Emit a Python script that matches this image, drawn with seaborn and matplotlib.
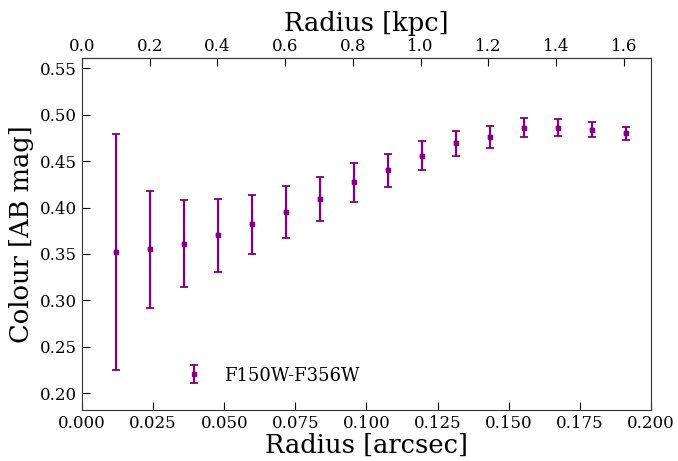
import matplotlib
matplotlib.use("Agg")
import matplotlib.pyplot as plt
import seaborn as sns
import numpy as np

radius_arcsec = [0.0119, 0.0239, 0.0358, 0.0478, 0.0597, 0.0717, 0.0836, 0.0956,
                 0.1075, 0.1195, 0.1314, 0.1434, 0.1553, 0.1673, 0.1792, 0.1912]
colour = [0.352, 0.355, 0.361, 0.370, 0.382, 0.395, 0.409, 0.427,
          0.440, 0.456, 0.469, 0.476, 0.486, 0.486, 0.484, 0.480]
colour_err = [0.127, 0.063, 0.047, 0.039, 0.032, 0.028, 0.024, 0.021,
              0.018, 0.0157, 0.0135, 0.012, 0.010, 0.009, 0.008, 0.0068]
series_label = "F150W-F356W"
kpc_per_arcsec = 8.4

sns.set_style("ticks", {"text.color": "black", "axes.labelcolor": "black",
                        "xtick.color": "black", "ytick.color": "black",
                        "axes.edgecolor": "#333333"})
plt.rcParams['font.family'] = ['DejaVu Serif']
plt.rcParams['mathtext.fontset'] = 'dejavuserif'

fig = plt.figure(figsize=(6.78, 4.61), dpi=100)
ax = fig.add_axes([0.121, 0.111, 0.839, 0.763])

sns.scatterplot(x=radius_arcsec, y=colour, ax=ax, color="purple", marker="s",
                s=12, edgecolor="purple", legend=False, zorder=3)
ax.errorbar(radius_arcsec, colour, yerr=colour_err, fmt="s", color="purple",
            markersize=3.5, capsize=2.6, elinewidth=1.6, capthick=1.3,
            label=series_label)

ax.set_xlim(0, 0.2)
ax.set_ylim(0.182, 0.561)
ax.set_yticks(np.arange(0.20, 0.56, 0.05))
ax.set_xticks(np.arange(0, 0.2001, 0.025))
ax.xaxis.set_major_formatter(matplotlib.ticker.FormatStrFormatter('%.3f'))
ax.yaxis.set_major_formatter(matplotlib.ticker.FormatStrFormatter('%.2f'))
ax.tick_params(direction="in", length=6, labelsize=12, top=False, right=False)

ax.set_xlabel("Radius [arcsec]", fontsize=18.5, labelpad=1)
ax.set_ylabel("Colour [AB mag]", fontsize=18.5, labelpad=4)

sec = ax.secondary_xaxis("top", functions=(lambda x: x * kpc_per_arcsec,
                                           lambda k: k / kpc_per_arcsec))
sec.set_xticks(np.arange(0, 1.61, 0.2))
sec.xaxis.set_major_formatter(matplotlib.ticker.FormatStrFormatter('%.1f'))
sec.tick_params(direction="in", length=6, labelsize=12, pad=2)
sec.set_xlabel("Radius [kpc]", fontsize=18.5, labelpad=5)

ax.legend(loc="lower left", bbox_to_anchor=(0.152, 0.025), frameon=False,
          fontsize=13, handlelength=1.0, handletextpad=1.2)

fig.savefig("out.png", dpi=100)
